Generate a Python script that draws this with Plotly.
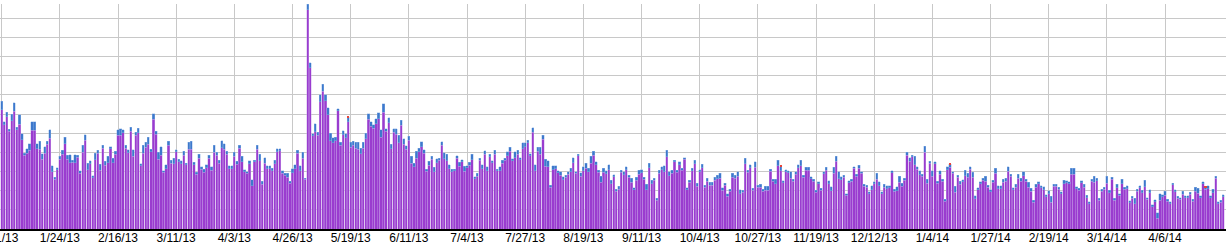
import pandas as pd
import plotly.graph_objects as go

start_date = "2013-01-01"

# Daily totals (grid units), in segments left -> right
totals_jan_apr = [6.67, 5.6, 6.1, 5.2, 6.0, 6.6, 5.3, 5.97, 4.96, 3.96, 4.2, 4.45, 5.6, 5.6, 4.45, 4.57, 3.93, 4.3, 4.57, 5.18,
                  3.3, 2.7, 3.2, 3.8, 4.1, 4.8, 3.84, 3.87, 3.58, 3.87, 3.84, 3.05, 4.36, 4.92, 3.44, 3.56, 2.77, 3.96, 4.1, 3.37,
                  4.36, 3.53, 3.8, 4.28, 3.7, 4.05, 5.18, 5.24, 5.18, 4.36, 4.14, 5.3, 4.14, 5.04, 5.27, 3.4, 4.36, 4.52, 4.78, 4.17,
                  6.02, 5.1, 4.0, 4.3, 3.05, 3.35, 4.57, 3.58, 3.7, 4.14, 3.65, 3.56, 4.05, 3.44, 4.52, 4.57, 3.49, 2.95, 3.9, 3.26,
                  3.12, 3.35, 3.84, 3.26, 4.36, 4.0, 3.58, 4.6, 4.45, 4.05, 3.3, 3.3, 4.0, 3.53, 4.36, 3.8, 3.09, 3.0, 3.56, 2.56,
                  3.6, 4.36, 3.9, 2.48, 3.73, 3.3, 3.3, 3.18, 3.6, 4.19, 4.19, 3.05, 2.9, 2.9]
totals_apr_jun = [2.5, 3.14, 3.35, 4.1, 3.3, 4.0, 2.65, 11.74, 8.67, 4.96, 5.48, 5.04, 7.0, 7.54, 7.0, 6.32, 5.0, 4.75, 4.8, 6.28,
                  4.52, 5.13, 4.96, 5.92, 4.52, 4.57, 4.52, 4.52, 4.22, 4.52, 5.0, 6.02, 5.6, 5.45, 5.74, 6.06, 5.18, 6.54, 5.24, 5.8,
                  4.43, 5.24, 5.24, 4.89, 5.67, 4.71, 4.35, 4.83, 3.79, 3.44, 4.05, 4.22, 4.54, 4.14, 3.12, 3.53, 3.79, 3.23, 3.66]
totals_jun_aug = [3.70, 4.56, 3.97, 3.91, 3.34, 3.13, 3.13, 3.83, 3.48, 3.62, 3.27, 3.30, 3.48, 3.91, 2.73, 2.90, 3.70, 3.34, 4.09, 3.25,
                  3.91, 3.55, 4.10, 3.13, 3.25, 3.58, 3.70, 4.03, 4.26, 3.67, 4.03, 4.10, 3.72, 4.5, 4.5, 4.64, 3.93, 5.29, 3.34, 4.26,
                  4.26, 4.89, 3.63, 3.55, 2.28, 3.29, 3.29, 3.03, 3.0, 2.73, 2.80, 3.0, 3.18, 3.72, 3.0, 3.91, 2.94, 3.25, 3.43]
totals_aug_oct = [3.18, 3.79, 4.05, 3.51, 3.07, 2.74, 3.16, 3.04, 3.35, 2.55, 2.83, 2.08, 2.22, 3.07, 2.98, 3.25, 2.81, 2.64, 2.16, 2.69,
                  3.07, 3.09, 2.69, 2.34, 3.44, 2.55, 2.64, 1.61, 3.07, 3.25, 3.30, 4.12, 2.98, 3.07, 3.60, 3.07, 3.51, 3.16, 3.73, 2.16,
                  2.55, 3.18, 3.60, 2.39, 3.09, 3.39, 2.29, 2.65, 2.43, 2.43, 2.69, 2.81, 2.90, 2.16, 2.39, 1.85, 2.08, 2.91, 2.81]
totals_oct_dec = [3.0, 2.04, 2.02, 3.70, 3.07, 3.35, 2.13, 3.51, 2.29, 2.34, 2.08, 2.22, 2.22, 3.12, 2.60, 2.60, 3.60, 3.30, 2.51, 3.09,
                  3.04, 3.0, 2.60, 3.0, 3.35, 3.60, 2.81, 3.21, 3.21, 2.72, 2.60, 2.02, 2.46, 2.13, 2.98, 3.21, 2.51, 2.20, 3.21, 3.79,
                  2.98, 2.72, 2.81, 1.85, 2.51, 2.60, 3.26, 2.86, 3.33, 3.0, 2.34, 2.29, 1.94, 2.25, 2.46, 2.90, 2.46, 1.94, 2.34, 2.25]
totals_dec_feb = [2.25, 3.04, 2.08, 2.20, 2.74, 2.39, 2.65, 4.0, 3.73, 3.86, 3.79, 3.26, 3.04, 2.86, 4.31, 2.60, 3.53, 3.04, 3.51, 2.48,
                  3.05, 2.60, 1.55, 3.25, 3.47, 3.0, 2.22, 2.81, 2.48, 2.57, 3.07, 2.90, 3.26, 2.95, 1.73, 2.16, 2.46, 2.65, 2.74, 2.29,
                  2.04, 2.55, 3.16, 2.25, 2.25, 2.60, 2.64, 3.26, 2.86, 2.16, 2.34, 2.86, 2.65, 2.98, 2.60, 2.43, 2.13, 1.50, 2.34, 2.46]
totals_feb_apr = [2.26, 2.20, 1.78, 1.99, 1.70, 2.34, 2.34, 2.17, 1.94, 2.55, 2.52, 2.47, 3.16, 3.16, 2.20, 2.12, 2.52, 2.34, 1.77, 1.42,
                  2.60, 2.74, 2.66, 1.61, 2.08, 2.17, 2.74, 2.03, 2.69, 1.61, 2.34, 1.85, 2.60, 2.17, 2.26, 1.47, 1.70, 1.61, 2.08, 2.26,
                  2.03, 2.55, 1.64, 2.05, 1.26, 1.52, 0.86, 1.85, 1.78, 1.96, 1.56, 1.42, 2.40, 2.05, 1.70, 1.64, 1.96, 1.73, 1.73, 1.91,
                  1.56, 2.17, 2.12, 1.73, 2.47, 2.26, 2.26, 1.73, 2.08, 2.74, 1.42, 1.50, 1.78]

# Blue top segment of each bar (grid units)
blue_jan_apr = [0.45, 0.15, 0.25, 0.1, 0.35, 0.45, 0.12, 0.5, 0.3, 0.1, 0.25, 0.35, 0.45, 0.45, 0.25, 0.4, 0.3, 0.35, 0.15, 0.45,
                0.3, 0.1, 0.1, 0.15, 0.2, 0.35, 0.2, 0.4, 0.1, 0.4, 0.1, 0.15, 0.35, 0.3, 0.35, 0.15, 0.1, 0.35, 0.15, 0.3,
                0.15, 0.2, 0.35, 0.1, 0.25, 0.15, 0.3, 0.35, 0.15, 0.15, 0.15, 0.2, 0.35, 0.15, 0.25, 0.1, 0.4, 0.25, 0.35, 0.15,
                0.3, 0.15, 0.35, 0.45, 0.1, 0.2, 0.2, 0.15, 0.3, 0.1, 0.15, 0.15, 0.2, 0.1, 0.35, 0.4, 0.15, 0.1, 0.2, 0.15,
                0.15, 0.15, 0.15, 0.2, 0.35, 0.15, 0.15, 0.35, 0.3, 0.15, 0.15, 0.15, 0.2, 0.15, 0.15, 0.3, 0.1, 0.1, 0.15, 0.3,
                0.1, 0.2, 0.35, 0.15, 0.3, 0.15, 0.15, 0.15, 0.2, 0.15, 0.1, 0.15, 0.1, 0.2]
blue_apr_jun = [0.1, 0.2, 0.2, 0.15, 0.25, 0.3, 0.05, 0.3, 0.26, 0.1, 0.4, 0.15, 0.35, 0.35, 0.3, 0.35, 0.4, 0.25, 0.2, 0.1,
                0.15, 0.2, 0.2, 0.25, 0.25, 0.2, 0.3, 0.35, 0.3, 0.3, 0.3, 0.3, 0.25, 0.2, 0.25, 0.3, 0.4, 0.45, 0.15, 0.25,
                0.25, 0.2, 0.3, 0.4, 0.25, 0.3, 0.2, 0.2, 0.35, 0.2, 0.35, 0.2, 0.25, 0.2, 0.1, 0.2, 0.15, 0.25, 0.2]
blue_jun_aug = [0.1, 0.2, 0.3, 0.35, 0.2, 0.15, 0.1, 0.15, 0.2, 0.1, 0.25, 0.1, 0.15, 0.3, 0.1, 0.15, 0.1, 0.2, 0.2, 0.2,
                0.15, 0.1, 0.2, 0.1, 0.2, 0.15, 0.1, 0.2, 0.2, 0.1, 0.3, 0.2, 0.1, 0.3, 0.2, 0.15, 0.1, 0.25, 0.3, 0.2,
                0.35, 0.2, 0.35, 0.3, 0.1, 0.2, 0.15, 0.1, 0.2, 0.15, 0.1, 0.15, 0.2, 0.25, 0.1, 0.1, 0.2, 0.2, 0.25]
blue_aug_oct = [0.2, 0.35, 0.2, 0.15, 0.1, 0.3, 0.2, 0.15, 0.25, 0.2, 0.1, 0.1, 0.15, 0.1, 0.15, 0.15, 0.1, 0.2, 0.1, 0.15,
                0.2, 0.15, 0.1, 0.3, 0.25, 0.2, 0.1, 0.1, 0.15, 0.15, 0.3, 0.35, 0.2, 0.15, 0.1, 0.1, 0.15, 0.1, 0.1, 0.1,
                0.1, 0.15, 0.2, 0.15, 0.1, 0.2, 0.1, 0.15, 0.15, 0.15, 0.15, 0.2, 0.25, 0.15, 0.1, 0.15, 0.1, 0.2, 0.15]
blue_oct_dec = [0.25, 0.2, 0.1, 0.3, 0.1, 0.15, 0.1, 0.3, 0.1, 0.15, 0.1, 0.2, 0.2, 0.1, 0.1, 0.25, 0.3, 0.2, 0.1, 0.1,
                0.1, 0.35, 0.1, 0.15, 0.15, 0.3, 0.1, 0.15, 0.15, 0.1, 0.1, 0.1, 0.1, 0.1, 0.1, 0.15, 0.15, 0.2, 0.3, 0.25,
                0.35, 0.15, 0.1, 0.1, 0.1, 0.1, 0.1, 0.1, 0.15, 0.1, 0.1, 0.1, 0.1, 0.2, 0.1, 0.3, 0.2, 0.1, 0.15, 0.15]
blue_dec_feb = [0.1, 0.1, 0.1, 0.2, 0.3, 0.15, 0.1, 0.15, 0.2, 0.1, 0.45, 0.15, 0.2, 0.1, 0.3, 0.2, 0.1, 0.3, 0.1, 0.1,
                0.2, 0.1, 0.1, 0.15, 0.15, 0.1, 0.3, 0.1, 0.15, 0.1, 0.3, 0.2, 0.15, 0.25, 0.15, 0.1, 0.1, 0.1, 0.25, 0.1,
                0.1, 0.1, 0.25, 0.15, 0.15, 0.15, 0.15, 0.25, 0.1, 0.1, 0.15, 0.2, 0.15, 0.2, 0.1, 0.25, 0.15, 0.1, 0.15, 0.1]
blue_feb_apr = [0.1, 0.15, 0.1, 0.15, 0.3, 0.1, 0.1, 0.1, 0.1, 0.2, 0.1, 0.1, 0.3, 0.3, 0.1, 0.1, 0.1, 0.15, 0.15, 0.1,
                0.1, 0.3, 0.15, 0.1, 0.1, 0.1, 0.35, 0.15, 0.1, 0.1, 0.2, 0.1, 0.25, 0.1, 0.15, 0.1, 0.1, 0.3, 0.1, 0.1,
                0.15, 0.35, 0.1, 0.15, 0.1, 0.1, 0.3, 0.35, 0.1, 0.2, 0.1, 0.1, 0.1, 0.1, 0.1, 0.1, 0.15, 0.1, 0.1, 0.1,
                0.1, 0.2, 0.25, 0.1, 0.1, 0.1, 0.15, 0.1, 0.2, 0.1, 0.1, 0.1, 0.1]

# Small red caps on a few days
red_days = ["2013-05-18", "2013-11-05", "2014-01-11", "2014-04-22"]
red_values = [0.08, 0.06, 0.1, 0.08]

tick_labels = ["1/1/13", "1/24/13", "2/16/13", "3/11/13", "4/3/13", "4/26/13", "5/19/13", "6/11/13", "7/4/13",
               "7/27/13", "8/19/13", "9/11/13", "10/4/13", "10/27/13", "11/19/13", "12/12/13", "1/4/14",
               "1/27/14", "2/19/14", "3/14/14", "4/6/14"]

totals = (totals_jan_apr + totals_apr_jun + totals_jun_aug + totals_aug_oct
          + totals_oct_dec + totals_dec_feb + totals_feb_apr)
blue = (blue_jan_apr + blue_apr_jun + blue_jun_aug + blue_aug_oct
        + blue_oct_dec + blue_dec_feb + blue_feb_apr)
n = min(len(totals), len(blue))
totals, blue = totals[:n], blue[:n]
dates = pd.date_range(start_date, periods=n, freq="D")

red_map = dict(zip(pd.to_datetime(red_days), red_values))
red = [red_map.get(d, 0.0) for d in dates]
purple = [t - b - r for t, b, r in zip(totals, blue, red)]

tick_vals = pd.to_datetime(tick_labels, format="%m/%d/%y")

fig = go.Figure()
fig.add_trace(go.Bar(x=dates, y=purple, marker=dict(color="#9a3ccf", line=dict(color="#c8a2e8", width=0.4)),
                     hoverinfo="skip"))
fig.add_trace(go.Bar(x=dates, y=blue, marker=dict(color="#3d78cc", line=dict(color="#8fb4e6", width=0.4)),
                     hoverinfo="skip"))
fig.add_trace(go.Bar(x=dates, y=red, marker=dict(color="#e8443a", line=dict(width=0)), hoverinfo="skip"))

fig.update_layout(
    width=1226, height=248,
    margin=dict(l=0, r=0, t=4, b=19, autoexpand=False),
    barmode="stack", bargap=0.12,
    showlegend=False,
    plot_bgcolor="white", paper_bgcolor="white",
    font=dict(family="Liberation Sans, Arial, sans-serif", size=12, color="black"),
)
fig.update_xaxes(
    type="date", automargin=False,
    range=["2012-12-31 08:00", "2014-04-30 02:24"],
    tickmode="array", tickvals=tick_vals, ticktext=tick_labels,
    showgrid=True, gridcolor="#c8c8c8", gridwidth=1,
    showline=True, linecolor="black", linewidth=2,
    ticks="", ticklabeloverflow="allow", ticklabelstandoff=-3,
    tickfont=dict(family="Liberation Sans, Arial, sans-serif", size=12, color="black"),
)
fig.update_yaxes(
    range=[0, 11.74], tick0=0, dtick=1, automargin=False,
    showgrid=True, gridcolor="#c8c8c8", gridwidth=1,
    showticklabels=False, zeroline=False, showline=False, ticks="",
)

fig.write_html("out.html")
